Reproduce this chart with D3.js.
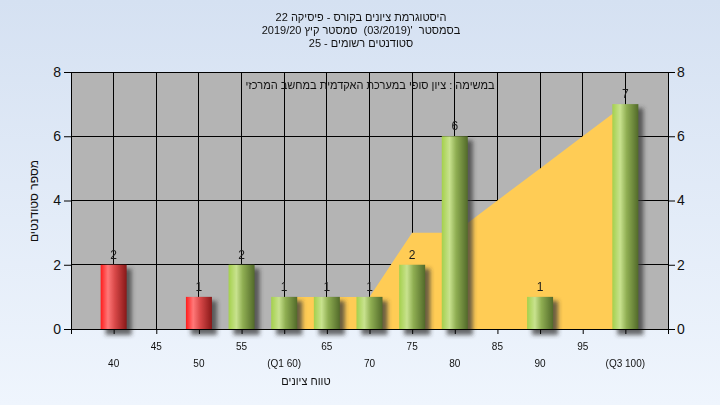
<!DOCTYPE html>
<html><head><meta charset="utf-8">
<script src="https://cdn.jsdelivr.net/npm/d3@7"></script>
<style>
html,body{margin:0;padding:0;}
body{width:720px;height:405px;overflow:hidden;}
text{font-family:"Liberation Sans",Arial,"Noto Sans",sans-serif;white-space:pre;}
</style></head>
<body><svg id="c" width="720" height="405"></svg>
<script>
const categories = [40,45,50,55,60,65,70,75,80,85,90,95,100];
const tickLabels = ["40","45","50","55","(Q1 60)","65","70","75","80","85","90","95","(Q3 100)"];
const counts = [2,0,1,2,1,1,1,2,6,0,1,0,7];
const failCategories = [40,45,50];
const rangeX = [60,65,70,75,80,85,90,95,100];
const rangeY = [1,1,1,3,3,4,5,6,7];
const yTicks = [0,2,4,6,8];
const titleLines = ["היסטוגרמת ציונים בקורס - פיסיקה 22","בסמסטר  '(03/2019)  סמסטר קיץ 2019/20","סטודנטים רשומים - 25"];
const noteText = "במשימה : ציון סופי במערכת האקדמית במחשב המרכזי";
const xTitle = "טווח ציונים";
const yTitle = "מספר סטודנטים";

const svg = d3.select("#c");
const L=71,R=668,T=72,B=329;
const x = d3.scaleLinear().domain([35,105]).range([L,R]);
const y = d3.scaleLinear().domain([0,8]).range([B,T]);
const bw = 26;

const defs = svg.append("defs");
const bg = defs.append("linearGradient").attr("id","bg").attr("x1",0).attr("y1",0).attr("x2",0).attr("y2",1);
bg.append("stop").attr("offset","0%").attr("stop-color","#d5e1f2");
bg.append("stop").attr("offset","100%").attr("stop-color","#eff5fd");
function grad(id, stops){
  const g = defs.append("linearGradient").attr("id",id).attr("x1",0).attr("y1",0).attr("x2",1).attr("y2",0);
  stops.forEach(s=>g.append("stop").attr("offset",s[0]).attr("stop-color",s[1]));
}
grad("red",[["0%","#ff1c1c"],["28%","#ff7878"],["55%","#d84848"],["100%","#881818"]]);
grad("green",[["0%","#a4d04c"],["30%","#c8e28e"],["55%","#8fae52"],["100%","#526a2a"]]);
const f = defs.append("filter").attr("id","blur").attr("x","-50%").attr("y","-50%").attr("width","200%").attr("height","200%");
f.append("feGaussianBlur").attr("stdDeviation",2.2);

svg.append("rect").attr("width",720).attr("height",405).attr("fill","url(#bg)");
svg.append("rect").attr("x",L).attr("y",T).attr("width",R-L).attr("height",B-T).attr("fill","#b4b4b4");

// grid
svg.append("g").selectAll("line").data(categories).join("line")
  .attr("x1",d=>x(d)).attr("x2",d=>x(d)).attr("y1",T).attr("y2",B)
  .attr("stroke","#000").attr("stroke-width",1).attr("shape-rendering","crispEdges");
svg.append("g").selectAll("line").data(yTicks.filter(d=>d>0&&d<8)).join("line")
  .attr("x1",L).attr("x2",R).attr("y1",d=>y(d)).attr("y2",d=>y(d))
  .attr("stroke","#000").attr("stroke-width",1).attr("shape-rendering","crispEdges");

// range area
const area = d3.area().x((d,i)=>x(d)).y0(y(0)).y1((d,i)=>y(rangeY[i]));
svg.append("path").datum(rangeX).attr("d",area).attr("fill","#ffcc55");

// bar shadows
const barData = categories.map((c,i)=>({c,v:counts[i]})).filter(d=>d.v>0);
svg.append("g").attr("filter","url(#blur)").selectAll("rect").data(barData).join("rect")
  .attr("x",d=>x(d.c)-bw/2+5).attr("y",d=>y(d.v)+4).attr("width",bw).attr("height",d=>y(0)-y(d.v)+2)
  .attr("fill","#3a3a3a").attr("opacity",0.75);
// bars
svg.append("g").selectAll("rect").data(barData).join("rect")
  .attr("x",d=>x(d.c)-bw/2).attr("y",d=>y(d.v)).attr("width",bw).attr("height",d=>y(0)-y(d.v))
  .attr("fill",d=>failCategories.includes(d.c)?"url(#red)":"url(#green)");
// bar labels
svg.append("g").selectAll("text").data(barData).join("text")
  .attr("x",d=>x(d.c)).attr("y",d=>y(d.v)-6).attr("text-anchor","middle")
  .attr("font-size",12).attr("fill","#1a1a1a").text(d=>d.v);

// axes
const axL = svg.append("g").attr("transform",`translate(${L},0)`).call(d3.axisLeft(y).tickValues(yTicks).tickSize(7).tickPadding(3));
const axR = svg.append("g").attr("transform",`translate(${R},0)`).call(d3.axisRight(y).tickValues(yTicks).tickSize(7).tickPadding(2));
[axL,axR].forEach(a=>{a.select(".domain").remove();a.selectAll("line").attr("stroke","#000");a.selectAll("text").attr("font-size",14).attr("fill","#111").style("font-family","'Liberation Sans',Arial,sans-serif");});
const axB = svg.append("g").attr("transform",`translate(0,${B})`).call(d3.axisBottom(x).tickValues(categories).tickSize(5).tickFormat(""));
axB.select(".domain").remove();
axB.selectAll("line").attr("stroke","#000");
// frame
svg.append("rect").attr("x",L).attr("y",T).attr("width",R-L).attr("height",B-T).attr("fill","none").attr("stroke","#000").attr("shape-rendering","crispEdges");
svg.append("line").attr("x1",L).attr("x2",L).attr("y1",B).attr("y2",B+5).attr("stroke","#000").attr("shape-rendering","crispEdges");
svg.append("line").attr("x1",R).attr("x2",R).attr("y1",B).attr("y2",B+5).attr("stroke","#000").attr("shape-rendering","crispEdges");

// x tick labels two rows
svg.append("g").selectAll("text").data(categories).join("text")
  .attr("x",d=>x(d)).attr("y",(d,i)=>i%2===1?350:367).attr("text-anchor","middle")
  .attr("font-size",10).attr("fill","#111").text((d,i)=>tickLabels[i]);

// titles
svg.append("g").selectAll("text").data(titleLines).join("text")
  .attr("x",361).attr("y",(d,i)=>21+i*13).attr("text-anchor","middle").attr("direction","rtl")
  .attr("font-size",11).attr("fill","#111").text(d=>d);
svg.append("text").attr("x",370).attr("y",89).attr("text-anchor","middle").attr("direction","rtl")
  .attr("font-size",11).attr("fill","#111").text(noteText);
svg.append("text").attr("x",306).attr("y",385).attr("text-anchor","middle").attr("direction","rtl")
  .attr("font-size",11).attr("fill","#111").text(xTitle);
svg.append("text").attr("transform","translate(38,201) rotate(-90)").attr("text-anchor","middle").attr("direction","rtl")
  .attr("font-size",12).attr("fill","#111").text(yTitle);
</script></body></html>
